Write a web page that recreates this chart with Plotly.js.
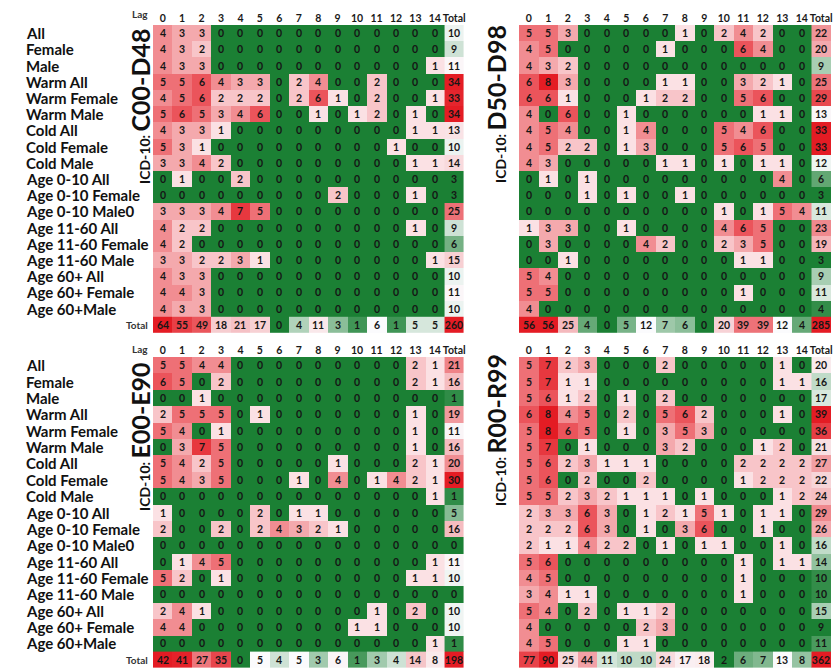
<!DOCTYPE html>
<html><head><meta charset="utf-8">
<script src="https://cdn.plot.ly/plotly-3.0.1.min.js"></script>
<style>html,body{margin:0;padding:0;background:#fff}#chart{width:835px;height:668px}</style>
</head><body><div id="chart"></div>
<script>
// ---------- DATA ----------
const rowLabels = ["All","Female","Male","Warm All","Warm Female","Warm Male","Cold All","Cold Female","Cold Male",
  "Age 0-10 All","Age 0-10 Female","Age 0-10 Male0","Age 11-60 All","Age 11-60 Female","Age 11-60 Male",
  "Age 60+ All","Age 60+ Female","Age 60+Male"];
const lags = [0,1,2,3,4,5,6,7,8,9,10,11,12,13,14];
const lagLabels = ["0","1","2","3","4","5","6","7","8","9","10","11","12","13","14","Total"];
const panelCodes = ["C00-D48","D50-D98","E00-E90","R00-R99"];

const c00d48 = [
  [4,3,3,0,0,0,0,0,0,0,0,0,0,0,0],
  [4,3,2,0,0,0,0,0,0,0,0,0,0,0,0],
  [4,3,3,0,0,0,0,0,0,0,0,0,0,0,1],
  [5,5,6,4,3,3,0,2,4,0,0,2,0,0,0],
  [4,5,6,2,2,2,0,2,6,1,0,2,0,0,1],
  [5,6,5,3,4,6,0,0,1,0,1,2,0,1,0],
  [4,3,3,1,0,0,0,0,0,0,0,0,0,1,1],
  [5,3,1,0,0,0,0,0,0,0,0,0,1,0,0],
  [3,3,4,2,0,0,0,0,0,0,0,0,0,1,1],
  [0,1,0,0,2,0,0,0,0,0,0,0,0,0,0],
  [0,0,0,0,0,0,0,0,0,2,0,0,0,1,0],
  [3,3,3,4,7,5,0,0,0,0,0,0,0,0,0],
  [4,2,2,0,0,0,0,0,0,0,0,0,0,1,0],
  [4,2,0,0,0,0,0,0,0,0,0,0,0,0,0],
  [3,3,2,2,3,1,0,0,0,0,0,0,0,0,1],
  [4,3,3,0,0,0,0,0,0,0,0,0,0,0,0],
  [4,4,3,0,0,0,0,0,0,0,0,0,0,0,0],
  [4,3,3,0,0,0,0,0,0,0,0,0,0,0,0]
];
const c00d48RowTotals = [10,9,11,34,33,34,13,10,14,3,3,25,9,6,15,10,11,10];
const c00d48ColTotals = [64,55,49,18,21,17,0,4,11,3,1,6,1,5,5];
const c00d48Grand = 260;

const d50d98 = [
  [5,5,3,0,0,0,0,0,1,0,2,4,2,0,0],
  [4,5,0,0,0,0,0,1,0,0,0,6,4,0,0],
  [4,3,2,0,0,0,0,0,0,0,0,0,0,0,0],
  [6,8,3,0,0,0,0,1,1,0,0,3,2,1,0],
  [6,6,1,0,0,0,1,2,2,0,0,5,6,0,0],
  [4,0,6,0,0,1,0,0,0,0,0,0,1,1,0],
  [4,5,4,0,0,1,4,0,0,0,5,4,6,0,0],
  [4,5,2,2,0,1,3,0,0,0,5,6,5,0,0],
  [4,3,0,0,0,0,0,1,1,0,1,0,1,1,0],
  [0,1,0,1,0,0,0,0,0,0,0,0,0,4,0],
  [0,0,0,1,0,1,0,0,1,0,0,0,0,0,0],
  [0,0,0,0,0,0,0,0,0,0,1,0,1,5,4],
  [1,3,3,0,0,1,0,0,0,0,4,6,5,0,0],
  [0,3,0,0,0,0,4,2,0,0,2,3,5,0,0],
  [0,0,1,0,0,0,0,0,0,0,0,1,1,0,0],
  [5,4,0,0,0,0,0,0,0,0,0,0,0,0,0],
  [5,5,0,0,0,0,0,0,0,0,0,1,0,0,0],
  [4,0,0,0,0,0,0,0,0,0,0,0,0,0,0]
];
const d50d98RowTotals = [22,20,9,25,29,13,33,33,12,6,3,11,23,19,3,9,11,4];
const d50d98ColTotals = [56,56,25,4,0,5,12,7,6,0,20,39,39,12,4];
const d50d98Grand = 285;

const e00e90 = [
  [5,5,4,4,0,0,0,0,0,0,0,0,0,2,1],
  [6,5,0,2,0,0,0,0,0,0,0,0,0,2,1],
  [0,0,1,0,0,0,0,0,0,0,0,0,0,0,0],
  [2,5,5,5,0,1,0,0,0,0,0,0,0,1,0],
  [5,4,0,1,0,0,0,0,0,0,0,0,0,1,0],
  [0,3,7,5,0,0,0,0,0,0,0,0,0,1,0],
  [5,4,2,5,0,0,0,0,0,1,0,0,0,2,1],
  [5,4,3,5,0,0,0,1,0,4,0,1,4,2,1],
  [0,0,0,0,0,0,0,0,0,0,0,0,0,0,1],
  [1,0,0,0,0,2,0,1,1,0,0,0,0,0,0],
  [2,0,0,2,0,2,4,3,2,1,0,0,0,0,0],
  [0,0,0,0,0,0,0,0,0,0,0,0,0,0,0],
  [0,1,4,5,0,0,0,0,0,0,0,0,0,0,1],
  [5,2,0,1,0,0,0,0,0,0,0,0,0,1,1],
  [0,0,0,0,0,0,0,0,0,0,0,0,0,0,0],
  [2,4,1,0,0,0,0,0,0,0,0,1,0,2,0],
  [4,4,0,0,0,0,0,0,0,0,1,1,0,0,0],
  [0,0,0,0,0,0,0,0,0,0,0,0,0,0,1]
];
const e00e90RowTotals = [21,16,1,19,11,16,20,30,1,5,16,0,11,10,0,10,10,1];
const e00e90ColTotals = [42,41,27,35,0,5,4,5,3,6,1,3,4,14,8];
const e00e90Grand = 198;

const r00r99 = [
  [5,7,2,3,0,0,0,2,0,0,0,0,0,1,0],
  [5,7,1,1,0,0,0,0,0,0,0,0,0,1,1],
  [5,6,1,2,0,1,0,2,0,0,0,0,0,0,0],
  [6,8,4,5,0,2,0,5,6,2,0,0,0,1,0],
  [5,8,6,5,0,1,0,3,5,3,0,0,0,0,0],
  [5,7,0,1,0,0,0,3,2,0,0,0,1,2,0],
  [5,6,2,3,1,1,1,0,0,0,0,2,2,2,2],
  [5,6,0,2,0,0,2,0,0,0,0,1,2,2,2],
  [5,5,2,3,2,1,1,1,0,1,0,0,0,1,2],
  [2,3,3,6,3,0,1,2,1,5,1,0,1,1,0],
  [2,2,2,6,3,0,1,0,3,6,0,0,1,0,0],
  [2,1,1,4,2,2,0,1,0,1,1,0,0,1,0],
  [5,6,0,0,0,0,0,0,0,0,0,1,0,1,1],
  [4,5,0,0,0,0,0,0,0,0,0,1,0,0,0],
  [3,4,1,1,0,0,0,0,0,0,0,1,0,0,0],
  [5,4,0,2,0,1,1,2,0,0,0,0,0,0,0],
  [4,0,0,0,0,0,2,3,0,0,0,0,0,0,0],
  [4,5,0,0,0,1,1,0,0,0,0,0,0,0,0]
];
const r00r99RowTotals = [20,16,17,39,36,21,27,22,24,29,26,16,14,10,10,15,9,11];
const r00r99ColTotals = [77,90,25,44,11,10,10,24,17,18,2,6,7,13,8];
const r00r99Grand = 362;

// ---------- STYLE / LAYOUT ----------
const W = 835, H = 668;
const GREEN = "#1b8034", RED = "#e41c24";
const FONT = "Lato, 'Open Sans', sans-serif";
const panels = [
  {m:c00d48, rt:c00d48RowTotals, ct:c00d48ColTotals, g:c00d48Grand, left:true},
  {m:d50d98, rt:d50d98RowTotals, ct:d50d98ColTotals, g:d50d98Grand, left:false},
  {m:e00e90, rt:e00e90RowTotals, ct:e00e90ColTotals, g:e00e90Grand, left:true},
  {m:r00r99, rt:r00r99RowTotals, ct:r00r99ColTotals, g:r00r99Grand, left:false}
];
const xDomL = [153/W, 464/W], xDomR = [519/W, 831/W];
const yDomT = [1-333/H, 1-25/H], yDomB = [0, 1-357/H];
const titleX = [140, 496, 140, 496];
const titleY = [107, 104, 437, 430];
const headerY = [14, 14, 349, 349];

const mainScale = [[0,GREEN],[0.1249,GREEN],[0.125,"#fbe1e4"],[1,RED]];
function median(a){const s=[...a].sort((p,q)=>p-q);const n=s.length;return n%2?s[(n-1)/2]:(s[n/2-1]+s[n/2])/2;}
function divScale(vals){
  const mn=Math.min(...vals), mx=Math.max(...vals), md=median(vals);
  let f=(md-mn)/(mx-mn); if(!(f>0&&f<1)) f=0.5;
  return {cs:[[0,GREEN],[f,"#fbfbfd"],[1,RED]], zmin:mn, zmax:mx};
}

const traces = [], annotations = [];
const layout = {width:W, height:H, margin:{l:0,r:0,t:0,b:0}, paper_bgcolor:"#fff", plot_bgcolor:"#fff",
  showlegend:false, font:{family:FONT}};
const rowIdx = rowLabels.map((_,i)=>i);
const txt = {texttemplate:"<b>%{z}</b>", textfont:{family:FONT, size:10.5, color:"#161616"}, showscale:false, hoverinfo:"skip"};

panels.forEach((p,k)=>{
  const n = k+1, xa = "x"+(k?n:""), ya = "y"+(k?n:"");
  const xKey = "xaxis"+(k?n:""), yKey = "yaxis"+(k?n:"");
  layout[xKey] = {domain: p.left?xDomL:xDomR, range:[-0.5,15.5], side:"top", tickvals:[...lags,15], ticktext:lagLabels,
    ticks:"", tickangle:0, showgrid:false, zeroline:false, showline:false, anchor:ya, fixedrange:true,
    tickfont:{family:FONT, size:10.5, color:"#1a1a1a", weight:"bold"}};
  layout[yKey] = {domain: k<2?yDomT:yDomB, range:[18.5,-0.5], showticklabels:false, showgrid:false, zeroline:false,
    ticks:"", anchor:xa, fixedrange:true};
  traces.push(Object.assign({type:"heatmap", x:lags, y:rowIdx, z:p.m, xaxis:xa, yaxis:ya,
    colorscale:mainScale, zmin:0, zmax:8, xgap:0, ygap:0}, txt));
  const rs = divScale(p.rt);
  traces.push(Object.assign({type:"heatmap", x:[15], y:rowIdx, z:p.rt.map(v=>[v]), xaxis:xa, yaxis:ya,
    colorscale:rs.cs, zmin:rs.zmin, zmax:rs.zmax}, txt));
  const cs = divScale(p.ct);
  traces.push(Object.assign({type:"heatmap", x:lags, y:[18], z:[p.ct], xaxis:xa, yaxis:ya,
    colorscale:cs.cs, zmin:cs.zmin, zmax:cs.zmax}, txt));
  traces.push(Object.assign({type:"heatmap", x:[15], y:[18], z:[[p.g]], xaxis:xa, yaxis:ya,
    colorscale:[[0,RED],[1,RED]], zmin:0, zmax:1}, txt));

  // vertical panel title
  annotations.push({xref:"paper", yref:"paper", x:titleX[k]/W, y:1-titleY[k]/H, xanchor:"center", yanchor:"middle",
    textangle:-90, showarrow:false,
    text:"<b>ICD-10: <span style='font-size:25px'>"+panelCodes[k]+"</span></b>",
    font:{family:FONT, size:14, color:"#111"}});

  if (p.left) {
    rowLabels.forEach((lab,i)=>{
      annotations.push({xref:"paper", yref:ya, x:24/W, y:i, xanchor:"left", yanchor:"middle", showarrow:false,
        text:"<b>"+lab+"</b>", font:{family:FONT, size:15, color:"#111"}});
    });
    annotations.push({xref:"paper", yref:ya, x:150/W, y:18, xanchor:"right", yanchor:"middle", showarrow:false,
      text:"<b>Total</b>", font:{family:FONT, size:10, color:"#333"}});
    annotations.push({xref:"paper", yref:"paper", x:150/W, y:1-headerY[k]/H, xanchor:"right", yanchor:"middle", showarrow:false,
      text:"<b>Lag</b>", font:{family:FONT, size:10, color:"#333"}});
  }
});
layout.annotations = annotations;
Plotly.newPlot("chart", traces, layout, {staticPlot:true, displayModeBar:false});
</script></body></html>
